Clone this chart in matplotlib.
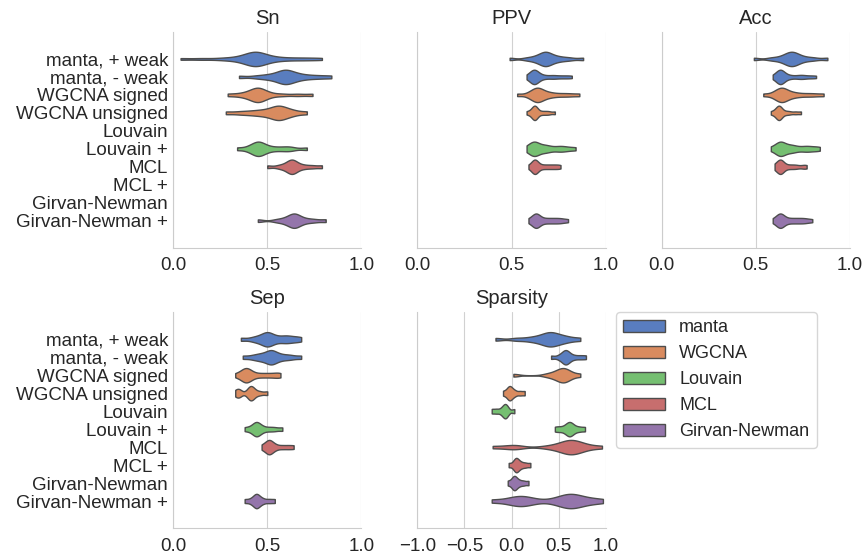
import matplotlib
matplotlib.use("Agg")
import matplotlib.pyplot as plt
from matplotlib.patches import Patch
import seaborn as sns
import pandas as pd

methods = ["manta, + weak", "manta, - weak", "WGCNA signed", "WGCNA unsigned",
           "Louvain", "Louvain +", "MCL", "MCL +", "Girvan-Newman", "Girvan-Newman +"]
families = ["manta", "WGCNA", "Louvain", "MCL", "Girvan-Newman"]
method_family = ["manta", "manta", "WGCNA", "WGCNA", "Louvain", "Louvain",
                 "MCL", "MCL", "Girvan-Newman", "Girvan-Newman"]

# values (rough samples per method)
sn = {
    "manta, + weak": [0.04, 0.15, 0.25, 0.31, 0.35, 0.38, 0.40, 0.41, 0.42, 0.43, 0.44,
                      0.44, 0.45, 0.46, 0.47, 0.49, 0.52, 0.55, 0.60, 0.66, 0.72, 0.79],
    "manta, - weak": [0.35, 0.44, 0.49, 0.52, 0.55, 0.57, 0.58, 0.59, 0.60, 0.61, 0.62,
                      0.64, 0.66, 0.69, 0.73, 0.78, 0.84],
    "WGCNA signed": [0.29, 0.35, 0.39, 0.41, 0.43, 0.44, 0.45, 0.45, 0.46, 0.47, 0.49,
                     0.52, 0.58, 0.66, 0.74],
    "WGCNA unsigned": [0.28, 0.35, 0.40, 0.44, 0.47, 0.50, 0.52, 0.54, 0.55, 0.56, 0.57,
                       0.58, 0.60, 0.62, 0.65, 0.71],
    "Louvain +": [0.34, 0.40, 0.42, 0.44, 0.45, 0.45, 0.46, 0.47, 0.49, 0.52, 0.56,
                  0.60, 0.63, 0.71],
    "MCL": [0.50, 0.56, 0.59, 0.61, 0.62, 0.63, 0.63, 0.64, 0.65, 0.67, 0.70, 0.74, 0.79],
    "Girvan-Newman +": [0.45, 0.55, 0.59, 0.61, 0.63, 0.64, 0.64, 0.65, 0.66, 0.68, 0.71,
                        0.75, 0.81],
}
ppv = {
    "manta, + weak": [0.49, 0.58, 0.62, 0.64, 0.66, 0.67, 0.68, 0.68, 0.69, 0.70, 0.72,
                      0.74, 0.77, 0.81, 0.88],
    "manta, - weak": [0.58, 0.60, 0.61, 0.61, 0.62, 0.62, 0.62, 0.63, 0.63, 0.64, 0.66,
                      0.68, 0.71, 0.73, 0.76, 0.79, 0.82],
    "WGCNA signed": [0.53, 0.59, 0.61, 0.62, 0.63, 0.64, 0.64, 0.65, 0.66, 0.68, 0.70,
                     0.73, 0.77, 0.81, 0.86],
    "WGCNA unsigned": [0.58, 0.60, 0.61, 0.62, 0.62, 0.62, 0.63, 0.63, 0.64, 0.66, 0.68,
                       0.70, 0.73],
    "Louvain +": [0.58, 0.60, 0.61, 0.62, 0.62, 0.63, 0.64, 0.66, 0.68, 0.69, 0.72,
                  0.75, 0.77, 0.80, 0.84],
    "MCL": [0.59, 0.61, 0.62, 0.62, 0.62, 0.63, 0.63, 0.64, 0.66, 0.68, 0.70, 0.72,
            0.74, 0.76],
    "Girvan-Newman +": [0.59, 0.61, 0.62, 0.63, 0.63, 0.63, 0.64, 0.65, 0.67, 0.69,
                        0.71, 0.73, 0.75, 0.77, 0.80],
}
acc = {
    "manta, + weak": [0.49, 0.58, 0.62, 0.65, 0.66, 0.68, 0.68, 0.69, 0.70, 0.71, 0.72,
                      0.74, 0.77, 0.81, 0.88],
    "manta, - weak": [0.59, 0.61, 0.62, 0.62, 0.63, 0.63, 0.63, 0.64, 0.64, 0.65, 0.67,
                      0.69, 0.72, 0.74, 0.76, 0.79, 0.82],
    "WGCNA signed": [0.54, 0.59, 0.61, 0.62, 0.63, 0.64, 0.64, 0.65, 0.66, 0.68, 0.70,
                     0.73, 0.77, 0.81, 0.86],
    "WGCNA unsigned": [0.58, 0.60, 0.61, 0.62, 0.62, 0.62, 0.63, 0.63, 0.64, 0.66, 0.68,
                       0.71, 0.74],
    "Louvain +": [0.58, 0.61, 0.62, 0.63, 0.63, 0.64, 0.65, 0.67, 0.69, 0.70, 0.73,
                  0.76, 0.78, 0.81, 0.84],
    "MCL": [0.60, 0.61, 0.62, 0.63, 0.63, 0.63, 0.64, 0.64, 0.66, 0.68, 0.70, 0.72,
            0.75, 0.77],
    "Girvan-Newman +": [0.59, 0.61, 0.62, 0.63, 0.63, 0.63, 0.64, 0.65, 0.67, 0.69,
                        0.71, 0.73, 0.75, 0.77, 0.80],
}
sep = {
    "manta, + weak": [0.36, 0.42, 0.45, 0.47, 0.49, 0.50, 0.50, 0.51, 0.53, 0.55, 0.58,
                      0.60, 0.62, 0.65, 0.68],
    "manta, - weak": [0.37, 0.42, 0.45, 0.47, 0.49, 0.51, 0.52, 0.52, 0.53, 0.55, 0.57,
                      0.60, 0.63, 0.68],
    "WGCNA signed": [0.33, 0.36, 0.37, 0.38, 0.39, 0.39, 0.40, 0.41, 0.43, 0.46, 0.49,
                     0.52, 0.55, 0.57],
    "WGCNA unsigned": [0.33, 0.35, 0.35, 0.40, 0.41, 0.41, 0.42, 0.43, 0.46, 0.50],
    "Louvain +": [0.38, 0.41, 0.43, 0.44, 0.44, 0.45, 0.46, 0.48, 0.51, 0.54, 0.58],
    "MCL": [0.47, 0.49, 0.50, 0.51, 0.51, 0.52, 0.53, 0.55, 0.58, 0.61, 0.64],
    "Girvan-Newman +": [0.38, 0.41, 0.43, 0.44, 0.44, 0.45, 0.46, 0.48, 0.51, 0.54],
}
sparsity = {
    "manta, + weak": [-0.17, 0.05, 0.18, 0.26, 0.32, 0.36, 0.39, 0.41, 0.43, 0.46, 0.50,
                      0.55, 0.61, 0.73],
    "manta, - weak": [0.42, 0.50, 0.54, 0.56, 0.57, 0.58, 0.60, 0.62, 0.67, 0.73, 0.79],
    "WGCNA signed": [0.02, 0.38, 0.46, 0.50, 0.53, 0.55, 0.56, 0.58, 0.62, 0.73],
    "WGCNA unsigned": [-0.09, -0.05, -0.03, -0.02, -0.01, 0.01, 0.04, 0.09, 0.14],
    "Louvain": [-0.21, -0.16, -0.11, -0.08, -0.07, -0.06, -0.04, 0.03],
    "Louvain +": [0.46, 0.51, 0.56, 0.59, 0.61, 0.62, 0.64, 0.67, 0.72, 0.78],
    "MCL": [-0.20, 0.01, 0.04, 0.38, 0.50, 0.56, 0.60, 0.62, 0.63, 0.65, 0.68, 0.73,
            0.80, 0.96],
    "MCL +": [-0.03, 0.02, 0.04, 0.05, 0.06, 0.08, 0.11, 0.15, 0.20],
    "Girvan-Newman": [-0.04, 0.00, 0.02, 0.03, 0.04, 0.06, 0.09, 0.13, 0.18],
    "Girvan-Newman +": [-0.21, -0.02, 0.06, 0.10, 0.14, 0.24, 0.45, 0.54, 0.59, 0.62,
                        0.64, 0.68, 0.75, 0.84, 0.97],
}

panels = [("Sn", sn), ("PPV", ppv), ("Acc", acc), ("Sep", sep), ("Sparsity", sparsity)]

sns.set_style("whitegrid")
plt.rcParams["font.family"] = ["Liberation Sans", "DejaVu Sans"]

colors = [sns.desaturate(c, 0.75) for c in sns.color_palette("muted", 5)]
palette = dict(zip(families, colors))


def to_frame(d):
    rows = []
    for m, fam in zip(methods, method_family):
        for v in d.get(m, []):
            rows.append((m, fam, v))
    return pd.DataFrame(rows, columns=["method", "family", "value"])


fig, axes = plt.subplots(2, 3, figsize=(8.66, 5.58), dpi=100)
fig.subplots_adjust(left=0.1998, right=0.9815, top=0.9427, bottom=0.0538,
                    wspace=0.296, hspace=0.30)
axes = axes.flatten()

for i, (name, d) in enumerate(panels):
    ax = axes[i]
    df = to_frame(d)
    sns.violinplot(data=df, x="value", y="method", hue="family", order=methods,
                   hue_order=families, palette=palette, saturation=1, dodge=False,
                   density_norm="width", cut=0, bw_adjust=0.5, inner=None, width=0.8,
                   linewidth=1, linecolor="0.3", legend=False, ax=ax)
    ax.set_ylim(10.5, -1.5)
    ax.set_title(name, fontsize=14.5)
    ax.set_xlabel("")
    ax.set_ylabel("")
    if name == "Sparsity":
        ax.set_xlim(-1, 1)
        ax.set_xticks([-1.0, -0.5, 0.0, 0.5, 1.0])
    else:
        ax.set_xlim(0, 1)
        ax.set_xticks([0.0, 0.5, 1.0])
    ax.xaxis.grid(True, color="0.82")
    ax.yaxis.grid(False)
    ax.tick_params(axis="x", labelsize=13.5)
    if i in (0, 3):
        ax.set_yticks(range(len(methods)))
        ax.set_yticklabels(methods, fontsize=13.5)
    else:
        ax.set_yticks([])
    ax.tick_params(axis="y", length=0)
    sns.despine(ax=ax)

axes[5].axis("off")
handles = [Patch(facecolor=palette[f], edgecolor="0.3", linewidth=1, label=f)
           for f in families]
fig.legend(handles=handles, loc="upper left", bbox_to_anchor=(616 / 866, 1 - 312 / 558),
           fontsize=13, handlelength=2.3, frameon=True, borderaxespad=0)

fig.savefig("out.png", dpi=100)
